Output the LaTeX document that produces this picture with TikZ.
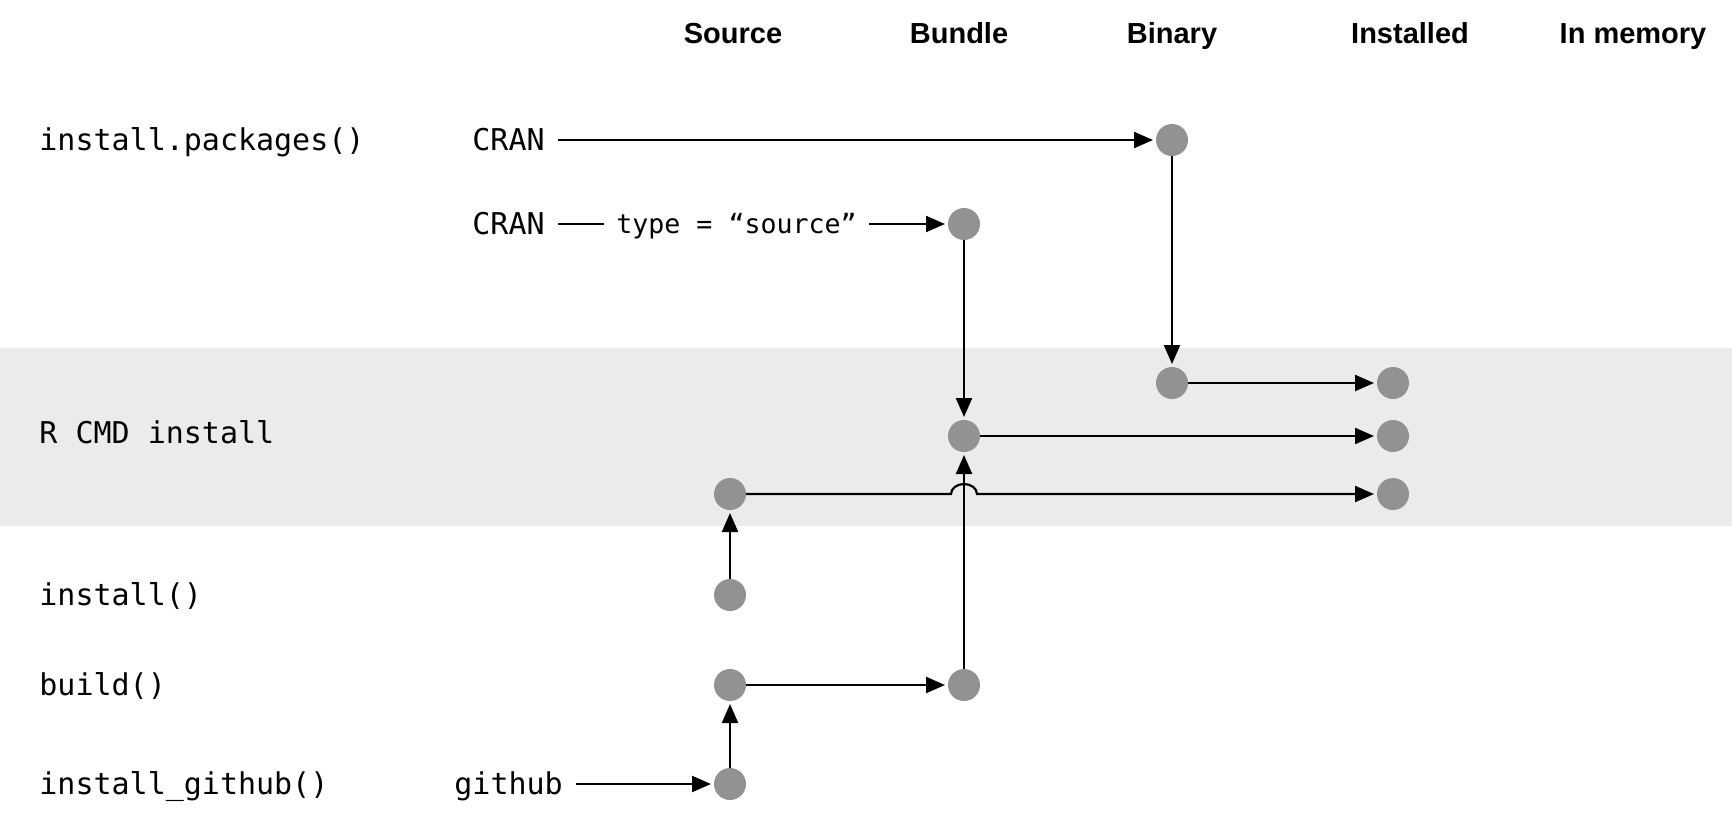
\documentclass[tikz,border=0pt]{standalone}
\usepackage{fontspec}
\setmainfont{Liberation Sans}
\newfontfamily\codefont{DejaVu Sans Mono}
\usetikzlibrary{arrows.meta,calc}
\definecolor{bandgray}{RGB}{235,235,235}
\definecolor{dotgray}{RGB}{146,146,146}
\begin{document}
\begin{tikzpicture}[x=0.5pt,y=-0.5pt,
  dot/.style={circle,fill=dotgray,draw=none,minimum size=16pt,inner sep=0pt,outer sep=0pt},
  head/.style={font=\bfseries\fontsize{14.5pt}{17pt}\selectfont,anchor=base,inner sep=0pt},
  code/.style={font=\codefont\fontsize{15pt}{18pt}\selectfont,inner sep=0pt,text height=10.9pt,text depth=0pt,anchor=west},
  smallcode/.style={font=\codefont\fontsize{13.3pt}{16pt}\selectfont,inner sep=0pt,text height=9.7pt,text depth=0pt,anchor=west},
  conn/.style={line width=1.1pt,-{Triangle[length=9.5pt,width=8pt]},shorten >=1.5pt},
  plain/.style={line width=1.1pt}]
\useasboundingbox (0,0) rectangle (1732,815);
\fill[bandgray] (0,348) rectangle (1732,526);

% headers
\node[head] (hsrc) at (733,43) {Source};
\node[head] (hbun) at (959,43) {Bundle};
\node[head] (hbin) at (1172,43) {Binary};
\node[head] (hins) at (1410,43) {Installed};
\node[head] (hmem) at (1633,43) {In memory};

% row labels
\node[code] (lip) at (39,140) {install.packages()};
\node[code] (lrcmd) at (39,433) {R CMD install};
\node[code] (linst) at (39,595) {install()};
\node[code] (lbuild) at (39,685) {build()};
\node[code] (lgh) at (39,784) {install\_github()};

% sources
\node[code] (cran1) at (472,140) {CRAN};
\node[code] (cran2) at (472,224) {CRAN};
\node[smallcode] (typ) at (616,224) {type = “source”};
\node[code] (ghsrc) at (454,784) {github};

% dots
\node[dot] (bin1) at (1172,140) {};
\node[dot] (bin2) at (1172,383) {};
\node[dot] (bun1) at (964,224) {};
\node[dot] (bun2) at (964,436) {};
\node[dot] (bun3) at (964,685) {};
\node[dot] (src1) at (730,494) {};
\node[dot] (srcI) at (730,595) {};
\node[dot] (srcB) at (730,685) {};
\node[dot] (srcG) at (730,784) {};
\node[dot] (inst1) at (1393,383) {};
\node[dot] (inst2) at (1393,436) {};
\node[dot] (inst3) at (1393,494) {};

% connectors
\draw[conn,shorten <=6.5pt] (cran1) -- (bin1);
\draw[plain,shorten <=6.5pt,shorten >=6pt] (cran2) -- (typ);
\draw[conn,shorten <=6pt] (typ) -- (bun1);
\draw[conn] (bin1) -- (bin2);
\draw[conn] (bin2) -- (inst1);
\draw[conn] (bun1) -- (bun2);
\draw[conn] (bun2) -- (inst2);
\draw[conn] (src1) -- ([xshift=-6.5pt]src1 -| bun2) arc[start angle=180,end angle=0,x radius=6.5pt,y radius=5pt] -- (inst3);
\draw[conn] (srcI) -- (src1);
\draw[conn] (srcB) -- (bun3);
\draw[conn] (bun3) -- (bun2);
\draw[conn] (srcG) -- (srcB);
\draw[conn,shorten <=6.5pt] (ghsrc) -- (srcG);
\end{tikzpicture}
\end{document}
